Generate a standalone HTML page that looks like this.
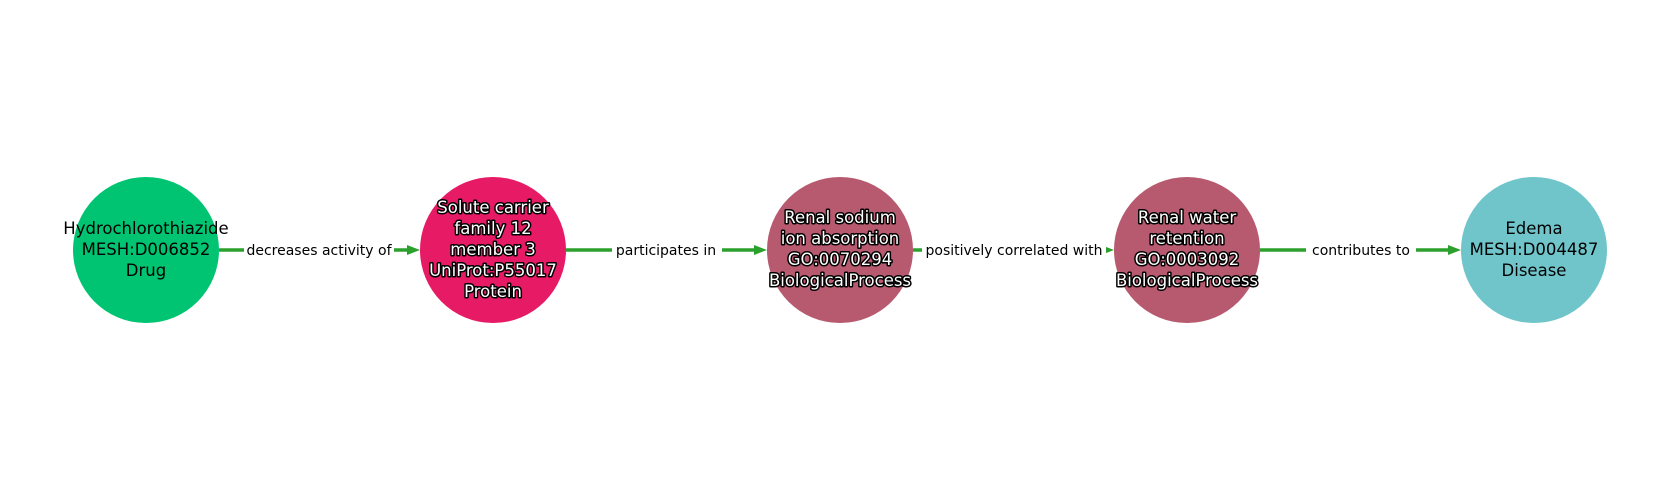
<!DOCTYPE html>
<html><head><style>
html,body{margin:0;padding:0;background:#fff;}
svg{display:block;}
.n{font-family:"DejaVu Sans","Liberation Sans",sans-serif;font-size:16.5px;text-anchor:middle;}
.w{fill:#fff;stroke:#000;stroke-width:3px;paint-order:stroke;stroke-linejoin:round;}
.e{font-family:"DejaVu Sans","Liberation Sans",sans-serif;font-size:14px;text-anchor:middle;fill:#000;}
</style></head><body>
<svg width="1680" height="500" viewBox="0 0 1680 500" xmlns="http://www.w3.org/2000/svg">
<g stroke="#2ca02c" stroke-width="3.5" fill="none">
<line x1="219" y1="250" x2="414" y2="250"/><path d="M407,245 L420,250 L407,255 z" fill="#2ca02c" stroke="none"/>
<line x1="566" y1="250" x2="761" y2="250"/><path d="M754,245 L767,250 L754,255 z" fill="#2ca02c" stroke="none"/>
<line x1="913" y1="250" x2="1108" y2="250"/><path d="M1101,245 L1114,250 L1101,255 z" fill="#2ca02c" stroke="none"/>
<line x1="1260" y1="250" x2="1455" y2="250"/><path d="M1448,245 L1461,250 L1448,255 z" fill="#2ca02c" stroke="none"/>
</g>
<rect x="244" y="240" width="150" height="20" fill="#fff"/>
<rect x="612" y="240" width="110" height="20" fill="#fff"/>
<rect x="922" y="240" width="184" height="20" fill="#fff"/>
<rect x="1306" y="240" width="110" height="20" fill="#fff"/>
<text class="e" x="319" y="255">decreases activity of</text>
<text class="e" x="666" y="255">participates in</text>
<text class="e" x="1014" y="255">positively correlated with</text>
<text class="e" x="1361" y="255">contributes to</text>
<circle cx="146" cy="250" r="73" fill="#00c471"/>
<circle cx="493" cy="250" r="73" fill="#e71a65"/>
<circle cx="840" cy="250" r="73" fill="#b75a6f"/>
<circle cx="1187" cy="250" r="73" fill="#b75a6f"/>
<circle cx="1534" cy="250" r="73" fill="#70c5cb"/>
<text class="n" x="146" y="234">Hydrochlorothiazide</text>
<text class="n" x="146" y="255">MESH:D006852</text>
<text class="n" x="146" y="276">Drug</text>
<g class="n w">
<text x="493" y="213">Solute carrier</text>
<text x="493" y="234">family 12</text>
<text x="493" y="255">member 3</text>
<text x="493" y="276">UniProt:P55017</text>
<text x="493" y="297">Protein</text>
<text x="840" y="223">Renal sodium</text>
<text x="840" y="244">ion absorption</text>
<text x="840" y="265">GO:0070294</text>
<text x="840" y="286">BiologicalProcess</text>
<text x="1187" y="223">Renal water</text>
<text x="1187" y="244">retention</text>
<text x="1187" y="265">GO:0003092</text>
<text x="1187" y="286">BiologicalProcess</text>
</g>
<text class="n" x="1534" y="234">Edema</text>
<text class="n" x="1534" y="255">MESH:D004487</text>
<text class="n" x="1534" y="276">Disease</text>
</svg>
</body></html>
